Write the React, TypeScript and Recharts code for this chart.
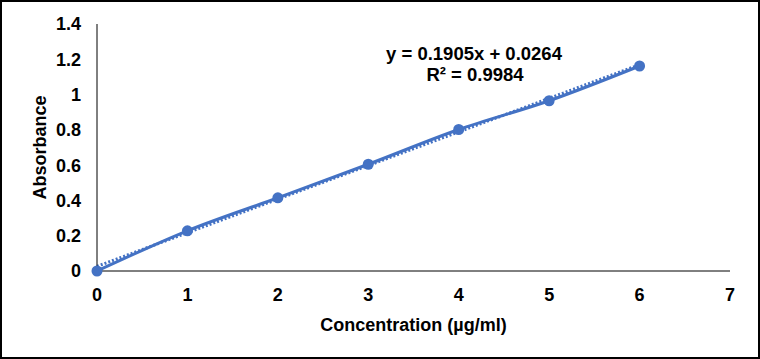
import React from "react";
import { LineChart, Line, XAxis, YAxis, Customized } from "recharts";

const concentrations = [0, 1, 2, 3, 4, 5, 6];
const absorbance = [0, 0.228, 0.415, 0.605, 0.802, 0.965, 1.162];
const trendX = [0, 6];
const trendY = [0.0264, 1.1694];
const xTicks = [0, 1, 2, 3, 4, 5, 6, 7];
const yTicks = [0, 0.2, 0.4, 0.6, 0.8, 1, 1.2, 1.4];
const equationText = "y = 0.1905x + 0.0264";
const r2Text = "R² = 0.9984";

const seriesData = concentrations.map((c, i) => ({ x: c, y: absorbance[i] }));
const trendData = trendX.map((c, i) => ({ x: c, y: trendY[i] }));

const COLOR = "#4472C4";
const FONT = "'Liberation Sans', Arial, sans-serif";

const Equation = () => (
  <g fontFamily={FONT} fontWeight="bold" fontSize={18.5} fill="#000">
    <text x={474} y={55} textAnchor="middle" dominantBaseline="middle">
      {equationText}
    </text>
    <text x={475} y={76} textAnchor="middle" dominantBaseline="middle">
      {r2Text}
    </text>
  </g>
);

export default function App() {
  return (
    <div
      style={{
        position: "absolute",
        left: 0,
        top: 0,
        width: 760,
        height: 359,
        boxSizing: "border-box",
        border: "2px solid #000",
        background: "#fff",
      }}
    >
      <div style={{ position: "absolute", left: -2, top: -2 }}>
        <LineChart
          width={760}
          height={359}
          margin={{ top: 24, right: 30, bottom: 28, left: 0 }}
        >
          <XAxis
            dataKey="x"
            type="number"
            domain={[0, 7]}
            ticks={xTicks}
            tickLine={false}
            tickSize={0}
            tickMargin={17}
            height={60}
            stroke="#000"
            axisLine={{ stroke: "#000", strokeWidth: 1 }}
            tick={{ fill: "#000", fontSize: 18, fontWeight: "bold", fontFamily: FONT }}
            allowDuplicatedCategory={false}
            label={{
              value: "Concentration (µg/ml)",
              position: "insideBottom",
              offset: 0,
              fill: "#000",
              fontSize: 18,
              fontWeight: "bold",
              fontFamily: FONT,
            }}
          />
          <YAxis
            type="number"
            domain={[0, 1.4]}
            ticks={yTicks}
            tickLine={false}
            tickSize={0}
            tickMargin={16}
            width={97}
            stroke="#000"
            axisLine={{ stroke: "#000", strokeWidth: 1 }}
            tick={{ fill: "#000", fontSize: 18, fontWeight: "bold", fontFamily: FONT }}
            label={{
              value: "Absorbance",
              angle: -90,
              position: "insideLeft",
              offset: 40,
              style: { textAnchor: "middle" },
              fill: "#000",
              fontSize: 18,
              fontWeight: "bold",
              fontFamily: FONT,
            }}
          />
          <Line
            data={trendData}
            dataKey="y"
            type="linear"
            stroke={COLOR}
            strokeWidth={3}
            strokeDasharray="2 2"
            dot={false}
            activeDot={false}
            isAnimationActive={false}
          />
          <Line
            data={seriesData}
            dataKey="y"
            type="monotone"
            stroke={COLOR}
            strokeWidth={3}
            dot={{ r: 5.5, fill: COLOR, stroke: COLOR, strokeWidth: 0 }}
            activeDot={false}
            isAnimationActive={false}
          />
          <Customized component={Equation} />
        </LineChart>
      </div>
    </div>
  );
}
